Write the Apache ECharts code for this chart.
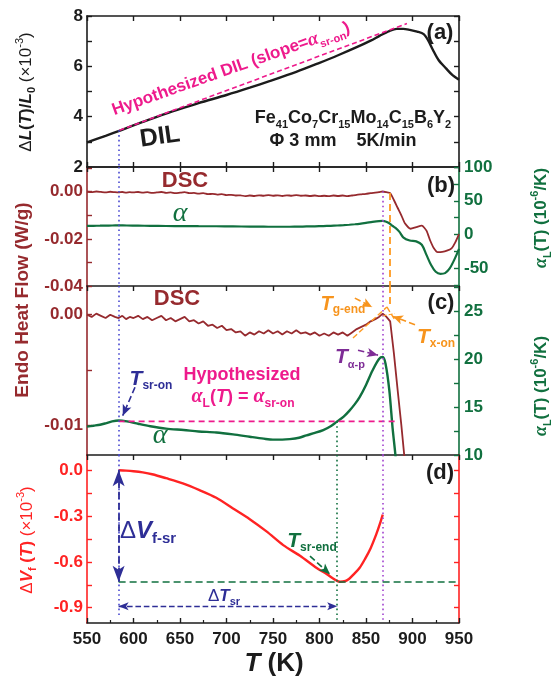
<!DOCTYPE html>
<html><head><meta charset="utf-8">
<script src="https://cdn.jsdelivr.net/npm/echarts@6/dist/echarts.min.js"></script>
<style>html,body{margin:0;padding:0;background:#fff}#c{width:553px;height:681px}</style>
</head><body><div id="c"></div>
<script>
// ---------------- data ----------------
// (a) dilatometry
const dilT = [550,570,587,610,630,647,670,700,725,747,775,800,820,840,855,865,875,883,890,897,905,912,917,922,928,936,943,950];
const dilV = [2.98,3.24,3.47,3.79,4.06,4.27,4.54,4.86,5.15,5.42,5.78,6.14,6.44,6.76,7.02,7.22,7.40,7.49,7.49,7.45,7.38,7.28,7.02,6.65,6.25,5.92,5.65,5.47];
const hypT = [585, 894];
const hypV = [3.46, 7.70];
// DSC heat flow (W/g)
const dscT = [550,555,560,565,570,575,580,584,588,592,596,600,605,610,615,620,625,630,635,640,645,650,655,660,665,670,675,680,685,690,695,700,705,710,715,720,725,730,735,740,745,750,755,760,765,770,775,780,785,790,795,800,805,810,815,820,825,830,835,840,845,850,855,860,864,868,872,876,880,884,888,892,898,904,910,915,919,923,927,932,937,942,946,950];
const dscV = [0.0000,-0.0002,0.0001,-0.0001,-0.0003,0.0000,-0.0002,-0.0003,-0.0001,-0.0004,-0.0002,-0.0003,-0.0001,-0.0004,-0.0002,-0.0005,-0.0003,-0.0001,-0.0005,-0.0003,-0.0006,-0.0004,-0.0002,-0.0006,-0.0005,-0.0008,-0.0006,-0.0010,-0.0009,-0.0012,-0.0010,-0.0014,-0.0013,-0.0016,-0.0015,-0.0019,-0.0016,-0.0018,-0.0015,-0.0017,-0.0014,-0.0017,-0.0015,-0.0018,-0.0015,-0.0017,-0.0014,-0.0017,-0.0016,-0.0018,-0.0016,-0.0019,-0.0017,-0.0019,-0.0016,-0.0018,-0.0016,-0.0019,-0.0016,-0.0013,-0.0011,-0.0009,-0.0006,-0.0004,-0.0002,0.0001,-0.0002,-0.0006,-0.0035,-0.0068,-0.0100,-0.0135,-0.0157,-0.0150,-0.0144,-0.0165,-0.0207,-0.0240,-0.0256,-0.0255,-0.0250,-0.0240,-0.0215,-0.0180];
// linear thermal expansion coefficient alpha_L (1e-6/K)
const alphaT = [550,557,564,570,577,584,593,605,618,635,654,670,689,707,725,740,750,760,768,778,786,795,804,812,819,826,832,838,843,850,857,864,868,871,875,878.6,882,886,890,897,904,910,915,920,925,930,935,940,945,950];
const alphaV = [12.95,13.05,13.15,13.3,13.5,13.6,13.5,13.25,13.0,12.75,12.6,12.45,12.35,12.15,11.9,11.7,11.6,11.6,11.65,11.8,12.05,12.3,12.6,13.0,13.5,14.0,14.6,15.3,16.0,17.3,18.8,20.0,20.2,19.5,16.8,12.8,9.6,4,-4,-8.8,-10,-15,-30,-45,-55,-58,-57,-50,-37,-21];
// (d) free volume change (1e-3)
const dvT = [584,592,600,610,620,635,653,671,689,707,725,743,761,779,797,808,815,822,828,832,837,843,849,855,861,865,868];
const dvV = [0.0,-0.002,-0.006,-0.014,-0.026,-0.052,-0.086,-0.13,-0.18,-0.25,-0.32,-0.40,-0.49,-0.56,-0.64,-0.68,-0.71,-0.73,-0.725,-0.71,-0.68,-0.64,-0.58,-0.51,-0.42,-0.35,-0.29];
// characteristic temperatures / levels
const T_SR_ON = 584, T_SR_END = 819, T_ALPHA_P = 867.5, T_X_ON = 876;
const ALPHA_SR_ON = 13.5, HYP_ALPHA_END = 881;
const DV_SR = -0.73, DT_LEVEL = -0.89;
// tick labels
const xTicks = [550,600,650,700,750,800,850,900,950];
const aLabels = [2,4,6,8], aTicks = [2,3,4,5,6,7,8];
const bLeftLabels = [-0.04,-0.02,0], bLeftTicks = [-0.04,-0.03,-0.02,-0.01,0,0.01];
const bRightLabels = [-50,0,50,100], bRightTicks = [-75,-50,-25,0,25,50,75,100];
const cLeftLabels = [-0.01,0], cLeftTicks = [-0.01,-0.005,0];
const cRightLabels = [10,15,20,25], cRightTicks = [10,12.5,15,17.5,20,22.5,25,27.5];
const dLabels = [-0.9,-0.6,-0.3,0], dTicks = [-0.9,-0.75,-0.6,-0.45,-0.3,-0.15,0];

// ---------------- styles ----------------
const FONT = 'Liberation Sans, Arial, sans-serif';
const C = {black:'#1c1c1c', dsc:'#962A2E', green:'#11703F', red:'#FF2323', pink:'#EE1A8C',
  blue:'#2E2E96', blueDot:'#4848D0', purple:'#A142CF', purpleT:'#7E2C96', orange:'#FF9B21', orangeT:'#F7941D'};
const zip = (a,b)=>a.map((t,i)=>[t,b[i]]);

const grids = [
  {left:87, width:372, top:16, height:151},
  {left:87, width:372, top:167, height:119},
  {left:87, width:372, top:286, height:169},
  {left:87, width:372, top:455, height:168}
];
function xAx(g, pos, showLabel){
  return {type:'value', gridIndex:g, position:pos, min:550, max:950, interval:50,
    axisLine:{show:true, onZero:false, lineStyle:{color:C.black, width:1.6}},
    axisTick:{show:true, inside:true, length:5, lineStyle:{color:C.black, width:1.4}},
    minorTick:{show:!!showLabel, splitNumber:2, length:3, lineStyle:{color:C.black, width:1.2}},
    axisLabel:{show:!!showLabel, fontFamily:FONT, fontWeight:'bold', fontSize:17, color:C.black, margin:8},
    splitLine:{show:false}};
}
function yAx(g, pos, min, max, color, labels, ticks, fmt, showLabel){
  return {type:'value', gridIndex:g, position:pos, min, max,
    axisLine:{show:true, onZero:false, lineStyle:{color, width:1.6}},
    axisTick:{show:true, inside:true, length:5, customValues:ticks, lineStyle:{color, width:1.4}},
    axisLabel:{show:showLabel!==false, customValues:labels, formatter:fmt, fontFamily:FONT, fontWeight:'bold', fontSize:17, color, margin:pos==='left'?4:5},
    splitLine:{show:false}};
}
const f2 = v=>(Math.abs(v)<1e-9?0:v).toFixed(2);
const f1 = v=>(Math.abs(v)<1e-9?0:v).toFixed(1);
const f0 = v=>String(v);

const dotted = (color)=>({color, width:1.6, type:[1.6,3.2]});
function seg(x1,y1,x2,y2,style,s1,s2,size){
  const a = {coord:[x1,y1], lineStyle:style, symbol:s1||'none', symbolSize:size||[8,12]};
  const b = {coord:[x2,y2], lineStyle:style, symbol:s2||'none', symbolSize:size||[8,12]};
  return [a,b];
}
function ml(data){ return {silent:true, animation:false, symbol:'none', label:{show:false}, emphasis:{disabled:true}, data}; }

const lineBase = {type:'line', showSymbol:false, symbol:'none', animation:false, silent:true, clip:true};

const series = [
  Object.assign({}, lineBase, {name:'DIL', xAxisIndex:0, yAxisIndex:0, data:zip(dilT,dilV), smooth:0.3,
    lineStyle:{color:C.black, width:2.4},
    markLine:ml([ seg(T_SR_ON,3.46,T_SR_ON,2,dotted(C.blueDot)) ])}),
  Object.assign({}, lineBase, {name:'Hyp DIL', xAxisIndex:0, yAxisIndex:0, data:zip(hypT,hypV),
    lineStyle:{color:C.pink, width:1.6, type:[5,3]}}),
  Object.assign({}, lineBase, {name:'DSC b', xAxisIndex:1, yAxisIndex:2, data:zip(dscT,dscV), smooth:0.2,
    lineStyle:{color:C.dsc, width:1.8},
    markLine:ml([
      seg(T_SR_ON,0.0105,T_SR_ON,-0.04,dotted(C.blueDot)),
      seg(T_ALPHA_P,0.0002,T_ALPHA_P,-0.04,dotted(C.purple)),
      seg(T_X_ON,-0.0005,T_X_ON,-0.04,{color:C.orange, width:1.8, type:[7,4]})
    ])}),
  Object.assign({}, lineBase, {name:'alpha b', xAxisIndex:1, yAxisIndex:3, data:zip(alphaT,alphaV), smooth:0.3,
    lineStyle:{color:C.green, width:2.2}}),
  Object.assign({}, lineBase, {name:'DSC c', xAxisIndex:2, yAxisIndex:4, data:zip(dscT,dscV),
    lineStyle:{color:C.dsc, width:1.8},
    markLine:ml([
      seg(T_SR_ON,0.0026,T_SR_ON,-0.0127,dotted(C.blueDot)),
      seg(T_ALPHA_P,0.0026,T_ALPHA_P,-0.0127,dotted(C.purple)),
      seg(T_X_ON,0.0026,T_X_ON,0.0009,{color:C.orange, width:1.8, type:[7,4]}),
      seg(836,-0.0021,872.5,0.0007,{color:C.orange, width:1.4}),
      seg(872.5,0.0007,880.5,-0.0004,{color:C.orange, width:1.4}),
      seg(868,-0.0001,881,0.0001,{color:C.orange, width:1.0}),
      seg(838,0.0015,856.5,0.0007,{color:C.orangeT, width:1.6},'none','arrow',[7,10]),
      seg(902.7,-0.0009,879,-0.00015,{color:C.orangeT, width:1.6},'none','arrow',[7,10])
    ])}),
  Object.assign({}, lineBase, {name:'alpha c', xAxisIndex:2, yAxisIndex:5, data:zip(alphaT,alphaV), smooth:0.3,
    lineStyle:{color:C.green, width:2.4},
    markLine:ml([
      seg(T_SR_END,ALPHA_SR_ON,T_SR_END,10,dotted(C.green)),
      seg(601.6,17.05,588.4,14.1,{color:C.blue, width:1.6},'none','arrow',[7,11]),
      seg(841.4,20.9,862.9,20.4,{color:C.purpleT, width:1.6},'none','arrow',[7,11])
    ])}),
  Object.assign({}, lineBase, {name:'hyp alpha', xAxisIndex:2, yAxisIndex:5,
    data:[[T_SR_ON,ALPHA_SR_ON],[HYP_ALPHA_END,ALPHA_SR_ON]],
    lineStyle:{color:C.pink, width:1.6, type:[6,4]}}),
  Object.assign({}, lineBase, {name:'dV', xAxisIndex:3, yAxisIndex:6, data:zip(dvT,dvV), smooth:0.3,
    lineStyle:{color:C.red, width:2.4},
    markLine:ml([
      seg(T_SR_ON,0.1,T_SR_ON,-0.95,dotted(C.blueDot)),
      seg(T_SR_END,0.1,T_SR_END,-1.0,dotted(C.green)),
      seg(T_ALPHA_P,0.1,T_ALPHA_P,-1.0,dotted(C.purple)),
      seg(T_SR_ON,DV_SR,948,DV_SR,{color:C.green, width:1.6, type:[7,4]}),
      seg(T_SR_ON,0,T_SR_ON,DV_SR,{color:C.blue, width:1.8},'arrow','arrow',[9,16]),
      seg(T_SR_ON,DT_LEVEL,T_SR_END,DT_LEVEL,{color:C.blue, width:1.4},'arrow','arrow',[6,10]),
      seg(789.8,-0.562,811.3,-0.681,{color:C.green, width:1.6},'none','arrow',[7,11])
    ])})
];

// ---------------- text annotations ----------------
function txt(x,y,text,rich,fill,opt){
  opt = opt||{};
  return {type:'text', x, y, rotation:opt.rot||0, silent:true, z:100,
    style:{text, rich, fill, align:'center', verticalAlign:'middle',
      fontFamily:opt.family||FONT, fontSize:opt.size||18, fontWeight:opt.weight||'bold', fontStyle:opt.style||'normal'}};
}
const B = (size, extra)=>Object.assign({fontFamily:FONT, fontSize:size, fontWeight:'bold', lineHeight:size+6}, extra||{});
const SUB = (size)=>({fontFamily:FONT, fontSize:size, fontWeight:'bold', lineHeight:size, verticalAlign:'bottom'});
const SUP = (size)=>({fontFamily:FONT, fontSize:size, fontWeight:'bold', lineHeight:size, verticalAlign:'top'});
const deg = d=>d*Math.PI/180;

const graphic = [
  // panel (a)
  txt(231,69,'{m|Hypothesized DIL (slope=}{g|α}{s|sr-on}{m|)}',
    {m:B(17,{fill:C.pink}), g:B(19,{fill:C.pink, fontStyle:'italic', fontFamily:'Liberation Serif, serif'}), s:SUB(11)}, C.pink, {rot:deg(19.5)}),
  txt(160,137,'DIL',null,C.black,{size:25, rot:deg(8)}),
  txt(353,118,'{m|Fe}{s|41}{m|Co}{s|7}{m|Cr}{s|15}{m|Mo}{s|14}{m|C}{s|15}{m|B}{s|6}{m|Y}{s|2}',
    {m:B(18,{fill:C.black, lineHeight:24}), s:Object.assign(SUB(11),{fill:C.black})}, C.black),
  txt(343,141,'Φ 3 mm    5K/min',null,C.black,{size:18}),
  txt(440,33,'(a)',null,C.black,{size:22}),
  // panel (b)
  txt(185,181,'DSC',null,C.dsc,{size:22}),
  txt(180,214,'α',null,C.green,{size:28, style:'italic', weight:'normal', family:'Liberation Serif, serif'}),
  txt(441,186,'(b)',null,C.black,{size:22}),
  // panel (c)
  txt(177,299,'DSC',null,C.dsc,{size:22}),
  txt(441,303,'(c)',null,C.black,{size:22}),
  txt(160,436,'α',null,C.green,{size:28, style:'italic', weight:'normal', family:'Liberation Serif, serif'}),
  txt(151,379,'{t|T}{s|sr-on}',{t:B(21,{fontStyle:'italic', fill:C.blue, lineHeight:26}), s:Object.assign(SUB(12),{fill:C.blue})}, C.blue),
  txt(242,375,'Hypothesized',null,C.pink,{size:18}),
  txt(243,397,'{g|α}{s|L}{m|(}{t|T}{m|) = }{g|α}{s|sr-on}',
    {m:B(18,{fill:C.pink}), t:B(18,{fill:C.pink, fontStyle:'italic'}), g:B(20,{fill:C.pink, fontStyle:'italic', fontFamily:'Liberation Serif, serif'}), s:Object.assign(SUB(12),{fill:C.pink})}, C.pink),
  txt(350,357,'{t|T}{s|α-p}',{t:B(21,{fontStyle:'italic', fill:C.purpleT, lineHeight:26}), s:Object.assign(SUB(11),{fill:C.purpleT})}, C.purpleT),
  txt(343,304,'{t|T}{s|g-end}',{t:B(20,{fontStyle:'italic', fill:C.orangeT, lineHeight:24}), s:Object.assign(SUB(12),{fill:C.orangeT})}, C.orangeT),
  txt(436,337,'{t|T}{s|x-on}',{t:B(21,{fontStyle:'italic', fill:C.orangeT, lineHeight:26}), s:Object.assign(SUB(12),{fill:C.orangeT})}, C.orangeT),
  // panel (d)
  txt(440,473,'(d)',null,C.black,{size:22}),
  txt(148,531,'{m|Δ}{t|V}{s|f-sr}',{m:B(24,{fill:C.blue, fontWeight:'normal', lineHeight:30}), t:B(24,{fill:C.blue, fontStyle:'italic', lineHeight:30}), s:Object.assign(SUB(15),{fill:C.blue})}, C.blue),
  txt(224,596,'{m|Δ}{t|T}{s|sr}',{m:B(17,{fill:C.blue, fontWeight:'normal'}), t:B(17,{fill:C.blue, fontStyle:'italic'}), s:Object.assign(SUB(11),{fill:C.blue})}, C.blue),
  txt(312,541,'{t|T}{s|sr-end}',{t:B(21,{fontStyle:'italic', fill:C.green, lineHeight:26}), s:Object.assign(SUB(12),{fill:C.green})}, C.green),
  // axis titles
  txt(26,92,'{n|Δ}{i|L}{b|(}{i|T}{b|)/}{i|L}{s|0}{n| (×10}{p|-3}{n|)}',
    {n:B(17,{fontWeight:'normal', fill:C.black}), b:B(17,{fill:C.black}), i:B(17,{fontStyle:'italic', fill:C.black}),
     s:Object.assign(SUB(11),{fill:C.black}), p:Object.assign(SUP(11),{fill:C.black, fontWeight:'normal'})}, C.black, {rot:deg(90)}),
  txt(23,300,'Endo Heat Flow (W/g)',null,C.dsc,{size:19, rot:deg(90)}),
  txt(541,218,'{g|α}{s|L}{m|(T) (10}{p|-6}{m|/K)}',
    {g:B(18,{fill:C.green, fontStyle:'italic', fontFamily:'Liberation Serif, serif'}), m:B(17,{fill:C.green}), s:Object.assign(SUB(11),{fill:C.green}), p:Object.assign(SUP(11),{fill:C.green})}, C.green, {rot:deg(90)}),
  txt(541,386,'{g|α}{s|L}{m|(T) (10}{p|-6}{m|/K)}',
    {g:B(18,{fill:C.green, fontStyle:'italic', fontFamily:'Liberation Serif, serif'}), m:B(17,{fill:C.green}), s:Object.assign(SUB(11),{fill:C.green}), p:Object.assign(SUP(11),{fill:C.green})}, C.green, {rot:deg(90)}),
  txt(27,540,'{n|Δ}{i|V}{s|f}{m| (}{i|T}{m|) }{n|(×10}{p|-3}{n|)}',
    {n:B(17,{fontWeight:'normal', fill:C.red}), m:B(17,{fill:C.red}), i:B(17,{fontStyle:'italic', fill:C.red}),
     s:Object.assign(SUB(11),{fill:C.red}), p:Object.assign(SUP(11),{fill:C.red, fontWeight:'normal'})}, C.red, {rot:deg(90)}),
  txt(274,664,'{i|T}{m| (K)}',{i:B(26,{fontStyle:'italic', fill:C.black}), m:B(26,{fill:C.black})}, C.black)
];

const option = {
  backgroundColor:'#fff',
  animation:false,
  grid: grids,
  xAxis: [xAx(0,'top'), xAx(1,'top'), xAx(2,'top'), xAx(3,'top'), xAx(3,'bottom',true), xAx(0,'bottom')],
  yAxis: [
    yAx(0,'left',2,8,C.black,aLabels,aTicks,f0),
    yAx(0,'right',2,8,C.black,aLabels,aTicks,f0,false),
    yAx(1,'left',-0.04,0.0105,C.dsc,bLeftLabels,bLeftTicks,f2),
    yAx(1,'right',-76,100,C.green,bRightLabels,bRightTicks,f0),
    yAx(2,'left',-0.0127,0.0026,C.dsc,cLeftLabels,cLeftTicks,f2),
    yAx(2,'right',10,27.6,C.green,cRightLabels,cRightTicks,f0),
    yAx(3,'left',-1.0,0.1,C.red,dLabels,dTicks,f1),
    yAx(3,'right',-1.0,0.1,C.red,dLabels,dTicks,f1,false)
  ],
  series,
  graphic
};
const chart = echarts.init(document.getElementById('c'), null, {renderer:'canvas'});
chart.setOption(option);
</script>
</body></html>
